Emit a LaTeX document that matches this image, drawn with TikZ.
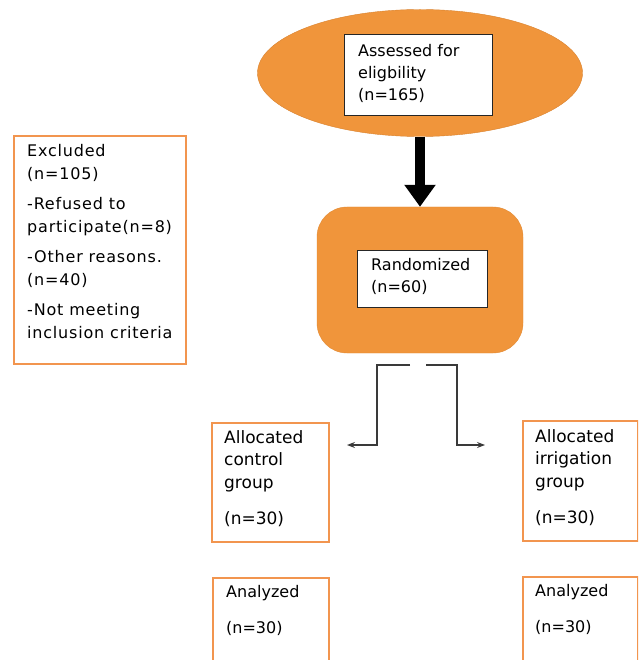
\documentclass[tikz,border=0pt]{standalone}
\usepackage{fontspec}
\setmainfont{DejaVu Sans}
\usepackage{xcolor}
\usetikzlibrary{shapes.geometric, arrows.meta, positioning, calc}
\definecolor{fillorange}{HTML}{F0953B}
\definecolor{edgeorange}{HTML}{D9822E}
\definecolor{lineorange}{HTML}{F2954F}
\definecolor{linkgray}{HTML}{3A3A3A}

\begin{document}
\begin{tikzpicture}[
    x=1pt, y=-1pt,
    >=Stealth,
    txt/.style={anchor=north west, inner sep=0pt, align=left, font=\fontsize{16}{22}\selectfont},
    outbox/.style={draw=lineorange, line width=1.6pt, anchor=north west, inner sep=0pt},
    whitebox/.style={draw=black!85, fill=white, line width=0.9pt, anchor=north west, inner sep=0pt},
    arrow/.style={->, line width=1.1pt, linkgray},
  ]
  \useasboundingbox (0,0) rectangle (638,660);
  \clip (0,0) rectangle (638,660);
  % Assessed
  \node[ellipse, draw=edgeorange, fill=fillorange, minimum width=325pt, minimum height=127pt] (assess) at (420,73) {};
  \node[whitebox, minimum width=148pt, minimum height=81pt] (assessbox) at (344,34) {};
  \node[txt] (assesstxt) at (358,44) {Assessed for\\eligbility\\(n=165)};
  % Randomized
  \node[draw=edgeorange!60!fillorange, fill=fillorange, rounded corners=30pt, minimum width=206pt, minimum height=146pt] (rand) at (420,280) {};
  \node[whitebox, minimum width=130pt, minimum height=57pt] (randbox) at (357,250) {};
  \node[txt] (randtxt) at (371,258) {Randomized\\(n=60)};
  \draw[line width=10pt, -{Triangle[width=30pt, length=22pt]}] (assess.south) -- (rand.north);
  % Excluded
  \node[outbox, minimum width=172pt, minimum height=228pt] (excl) at (13,135) {};
  \node[txt, font=\fontsize{16}{23}\selectfont\addfontfeatures{LetterSpace=5}] (excltxt) at (27,144) {Excluded\\(n=105)\\[7pt]-Refused to\\participate(n=8)\\[7pt]-Other reasons.\\(n=40)\\[7pt]-Not meeting\\inclusion criteria};
  % Allocation
  \node[outbox, minimum width=117pt, minimum height=119pt] (ctl) at (211,422) {};
  \node[txt, font=\fontsize{17}{22.5}\selectfont] (ctltxt) at (224,430) {Allocated\\control\\group\\[14pt](n=30)};
  \node[outbox, minimum width=115pt, minimum height=120pt] (irr) at (522,420) {};
  \node[txt, font=\fontsize{17}{22.5}\selectfont] (irrtxt) at (535,429) {Allocated\\irrigation\\group\\[14pt](n=30)};
  \coordinate (splitl) at (410,365);
  \coordinate (splitr) at (426,365);
  \coordinate (ctlend) at (347,445);
  \coordinate (irrend) at (485,445);
  \draw[arrow] (splitl) -- (377,365) |- (ctlend);
  \draw[arrow] (splitr) -- (457,365) |- (irrend);
  % Analyzed
  \node[outbox, minimum width=116pt, minimum height=120pt] (anactl) at (212,577) {};
  \node[txt, font=\fontsize{16}{36}\selectfont] (anactltxt) at (226,585) {Analyzed\\(n=30)};
  \node[outbox, minimum width=115pt, minimum height=120pt] (anairr) at (522,576) {};
  \node[txt, font=\fontsize{16}{36}\selectfont] (anairrtxt) at (535,584) {Analyzed\\(n=30)};
\end{tikzpicture}
\end{document}
